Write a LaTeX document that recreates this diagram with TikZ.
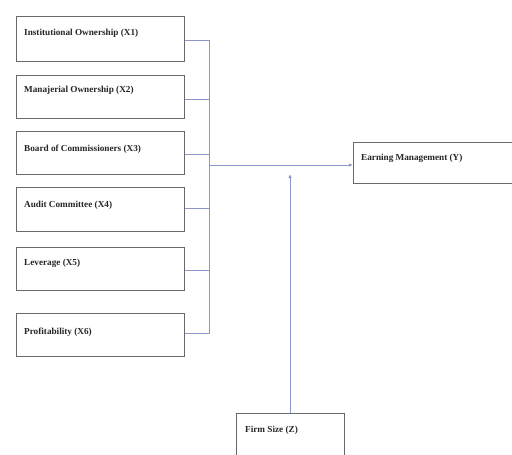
\documentclass[tikz,border=0pt]{standalone}
\usepackage{fontspec}
\setmainfont{Liberation Serif}
\usetikzlibrary{arrows.meta,calc}
\definecolor{boxgray}{RGB}{105,105,105}
\definecolor{linkblue}{RGB}{140,150,205}
\begin{document}
\begin{tikzpicture}[x=1pt,y=-1pt,
  box/.style={draw=boxgray, line width=1.2pt, anchor=north west, inner sep=0pt},
  txt/.style={anchor=west, inner sep=0pt, font=\bfseries\fontsize{9.2}{11}\selectfont, text=black!85},
  link/.style={draw=linkblue, line width=0.8pt},
  arr/.style={link, -{Latex[length=4pt,width=3.5pt]}}]
\fill[white] (0,0) rectangle (512,455);
\useasboundingbox (0,0) rectangle (512,455);
% left boxes
\node[box, minimum width=168pt, minimum height=45pt] (b1) at (16,16) {};
\node[box, minimum width=168pt, minimum height=43pt] (b2) at (16,75) {};
\node[box, minimum width=168pt, minimum height=43pt] (b3) at (16,131) {};
\node[box, minimum width=168pt, minimum height=44pt] (b4) at (16,187) {};
\node[box, minimum width=168pt, minimum height=43pt] (b5) at (16,247) {};
\node[box, minimum width=168pt, minimum height=43pt] (b6) at (16,313) {};
\node[box, minimum width=161pt, minimum height=41pt] (by) at (353,142) {};
\node[box, minimum width=108pt, minimum height=45pt] (bz) at (236,413) {};
% texts
\node[txt] (t1) at (24,33) {Institutional Ownership (X1)};
\node[txt] (t2) at (24,90) {Manajerial Ownership (X2)};
\node[txt] (t3) at (24,149) {Board of Commissioners (X3)};
\node[txt] (t4) at (24,205) {Audit Committee (X4)};
\node[txt] (t5) at (24,263) {Leverage (X5)};
\node[txt] (t6) at (24,332) {Profitability (X6)};
\node[txt] (ty) at (361,158) {Earning Management (Y)};
\node[txt] (tz) at (245,430) {Firm Size (Z)};
% connectors
\coordinate (j1) at (209,40);
\coordinate (j6) at (209,333);
\coordinate (jm) at (209,165);
\coordinate (zt) at (290,174);
\draw[link] (b1.east |- j1) -- (j1) -- (j6) -- (b6.east |- j6);
\draw[link] (b2.east |- 0,99) -- (209,99);
\draw[link] (b3.east |- 0,154) -- (209,154);
\draw[link] (b4.east |- 0,208) -- (209,208);
\draw[link] (b5.east |- 0,270) -- (209,270);
\draw[arr] (jm) -- (jm -| by.west);
\draw[arr] (bz.north -| zt) -- (zt);
\end{tikzpicture}
\end{document}
